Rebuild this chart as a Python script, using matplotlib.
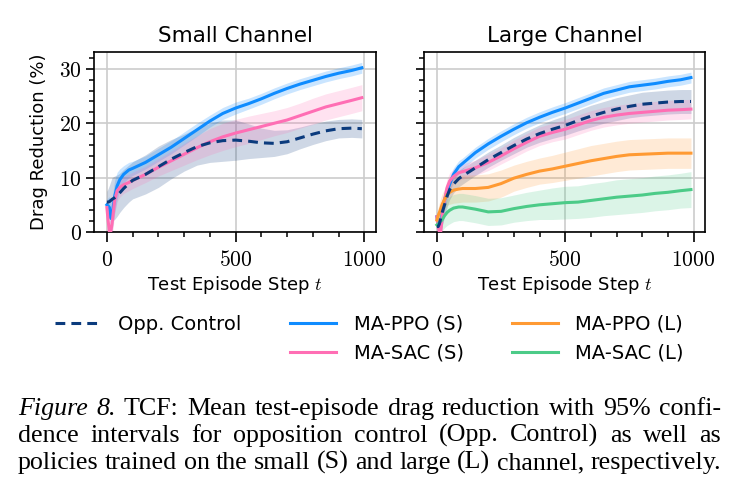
import matplotlib
matplotlib.use('Agg')
import matplotlib.pyplot as plt
import numpy as np
from matplotlib.lines import Line2D
from matplotlib.ticker import FixedLocator, MultipleLocator, FuncFormatter

# test episode steps
steps = [0, 5, 10, 15, 20, 30, 40, 50, 65, 85, 100, 150, 200, 250, 300, 350,
         400, 450, 500, 550, 600, 650, 700, 750, 800, 850, 900, 950, 990]

# small channel: mean drag reduction (%) and 95% CI half-widths
opp_small = [5.5, 5.5, 5.6, 5.8, 6.0, 6.3, 6.7, 7.2, 8.0, 8.9, 9.5, 10.6, 12.0, 13.4, 14.6,
             15.7, 16.4, 16.8, 16.9, 16.7, 16.4, 16.3, 16.6, 17.3, 18.0, 18.6, 19.0, 19.1, 19.0]
opp_small_ci = [2.0, 2.5, 3.0, 3.5, 4.0, 4.0, 3.8, 3.6, 3.5, 3.4, 3.4, 3.6, 3.8, 3.6, 3.4,
                3.4, 3.6, 3.8, 3.7, 3.2, 2.7, 2.4, 2.2, 2.0, 1.9, 1.8, 1.7, 1.7, 1.7]
ppo_s_small = [5.0, 4.8, 4.5, 2.5, 3.0, 6.5, 8.5, 9.6, 10.6, 11.4, 11.7, 12.8, 14.2, 15.6, 17.2,
               18.8, 20.4, 21.8, 22.8, 23.6, 24.5, 25.5, 26.4, 27.2, 27.9, 28.6, 29.2, 29.7, 30.2]
ppo_s_small_ci = [1.0, 1.5, 2.0, 3.0, 3.0, 3.0, 2.5, 2.0, 1.6, 1.4, 1.3, 1.2, 1.2, 1.2, 1.2,
                  1.2, 1.1, 1.1, 1.1, 1.0, 1.0, 1.0, 1.0, 1.0, 1.0, 1.0, 1.0, 1.0, 1.0]
sac_s_small = [4.5, 2.0, 0.0, 0.0, 1.5, 5.8, 7.6, 8.2, 8.7, 9.1, 9.5, 10.6, 11.9, 13.1, 14.3,
               15.5, 16.6, 17.5, 18.2, 18.8, 19.4, 20.0, 20.6, 21.4, 22.2, 23.0, 23.6, 24.2, 24.7]
sac_s_small_ci = [1.0, 1.5, 2.0, 2.5, 3.0, 2.5, 2.0, 1.8, 1.6, 1.5, 1.5, 1.5, 1.6, 1.8, 2.0,
                  2.2, 2.4, 2.5, 2.5, 2.5, 2.4, 2.3, 2.3, 2.3, 2.4, 2.4, 2.4, 2.4, 2.4]

# large channel
opp_large = [1.0, 1.0, 1.5, 2.5, 3.5, 5.0, 6.6, 7.8, 8.8, 9.8, 10.3, 11.8, 13.3, 14.6, 15.9,
             17.1, 18.1, 18.9, 19.6, 20.5, 21.3, 22.0, 22.6, 23.1, 23.5, 23.7, 23.9, 24.0, 24.0]
opp_large_ci = [1.0, 1.5, 2.0, 2.5, 2.5, 2.2, 2.0, 1.8, 1.6, 1.5, 1.5, 1.4, 1.4, 1.4, 1.5,
                1.5, 1.6, 1.7, 1.8, 1.9, 2.0, 2.0, 2.1, 2.1, 2.2, 2.2, 2.2, 2.2, 2.2]
ppo_s_large = [2.8, 1.5, 0.5, 1.5, 3.0, 5.9, 7.5, 8.8, 10.6, 12.0, 12.6, 14.6, 16.2, 17.6, 18.9,
               20.1, 21.1, 22.0, 22.8, 23.7, 24.6, 25.5, 26.1, 26.7, 27.0, 27.3, 27.7, 28.0, 28.4]
ppo_s_large_ci = [1.0, 1.5, 2.0, 2.0, 2.0, 1.8, 1.6, 1.4, 1.2, 1.1, 1.0, 1.0, 1.0, 1.0, 1.0,
                  1.0, 1.0, 1.0, 1.0, 1.0, 1.0, 1.0, 1.0, 1.0, 1.0, 1.0, 1.0, 1.0, 1.0]
sac_s_large = [2.8, 1.0, 0.0, 0.0, 2.5, 6.0, 8.2, 9.4, 10.2, 10.9, 11.1, 11.8, 12.8, 14.0, 15.3,
               16.5, 17.6, 18.3, 18.9, 19.7, 20.5, 21.1, 21.5, 21.8, 22.0, 22.2, 22.4, 22.5, 22.6]
sac_s_large_ci = [1.0, 1.5, 2.0, 2.0, 2.0, 1.8, 1.6, 1.5, 1.4, 1.4, 1.4, 1.4, 1.5, 1.5, 1.6,
                  1.6, 1.7, 1.7, 1.8, 1.8, 1.8, 1.8, 1.8, 1.8, 1.8, 1.8, 1.8, 1.8, 1.8]
ppo_l_large = [2.2, 3.0, 3.6, 4.3, 5.0, 6.0, 6.9, 7.3, 7.7, 7.9, 8.0, 8.0, 8.2, 8.9, 9.9,
               10.6, 11.2, 11.6, 12.1, 12.6, 13.1, 13.5, 13.9, 14.2, 14.3, 14.4, 14.5, 14.5, 14.5]
ppo_l_large_ci = [1.0, 1.5, 1.8, 2.0, 2.0, 2.0, 2.0, 2.2, 2.4, 2.5, 2.5, 2.5, 2.5, 2.5, 2.4,
                  2.4, 2.4, 2.5, 2.6, 2.7, 2.8, 2.8, 2.8, 2.8, 2.8, 2.8, 2.8, 2.8, 2.8]
sac_l_large = [1.3, 1.5, 1.8, 2.0, 2.2, 3.0, 3.6, 4.0, 4.4, 4.6, 4.6, 4.2, 3.7, 3.8, 4.3,
               4.7, 5.0, 5.2, 5.4, 5.5, 5.8, 6.1, 6.4, 6.6, 6.8, 7.1, 7.3, 7.6, 7.8]
sac_l_large_ci = [1.0, 1.2, 1.5, 1.8, 2.0, 2.2, 2.4, 2.5, 2.5, 2.5, 2.5, 2.5, 2.5, 2.5, 2.5,
                  2.6, 2.7, 2.9, 3.0, 3.0, 3.1, 3.1, 3.2, 3.2, 3.2, 3.2, 3.2, 3.2, 3.3]

titles = ['Small Channel', 'Large Channel']
caption = ['Figure 8. TCF: Mean test-episode drag reduction with 95% confi-',
           'dence intervals for opposition control (Opp. Control) as well as',
           'policies trained on the small (S) and large (L) channel, respectively.']

c_opp = '#0b3b7d'
c_ppo_s = '#0f8cff'
c_sac_s = '#ff6eb4'
c_ppo_l = '#ff9a33'
c_sac_l = '#4ccb88'

plt.rcParams['font.family'] = ['DejaVu Sans']
plt.rcParams['mathtext.fontset'] = 'cm'

fig = plt.figure(figsize=(7.39, 4.93), dpi=100)
ax1 = fig.add_axes([0.1272, 0.5294, 0.3816, 0.3651])
ax2 = fig.add_axes([0.5738, 0.5294, 0.3803, 0.3651])

t = np.array(steps)

def draw(ax, mean, ci, color, dashed=False, alpha=0.22):
    mean = np.array(mean)
    ci = np.array(ci)
    ax.fill_between(t, mean - ci, mean + ci, color=color, alpha=alpha, lw=0)
    if dashed:
        ax.plot(t, mean, color=color, lw=2.2, ls=(0, (3.2, 2.0)), zorder=5)
    else:
        ax.plot(t, mean, color=color, lw=2.2, zorder=4)

draw(ax1, opp_small, opp_small_ci, c_opp, dashed=True, alpha=0.2)
draw(ax1, ppo_s_small, ppo_s_small_ci, c_ppo_s, alpha=0.22)
draw(ax1, sac_s_small, sac_s_small_ci, c_sac_s, alpha=0.2)

draw(ax2, opp_large, opp_large_ci, c_opp, dashed=True, alpha=0.2)
draw(ax2, ppo_s_large, ppo_s_large_ci, c_ppo_s, alpha=0.22)
draw(ax2, sac_s_large, sac_s_large_ci, c_sac_s, alpha=0.2)
draw(ax2, ppo_l_large, ppo_l_large_ci, c_ppo_l, alpha=0.2)
draw(ax2, sac_l_large, sac_l_large_ci, c_sac_l, alpha=0.2)

fmt = FuncFormatter(lambda v, p: '$%d$' % v)
for ax, title in zip([ax1, ax2], titles):
    ax.set_xlim(-50, 1045)
    ax.set_ylim(0, 33.1)
    ax.xaxis.set_major_locator(FixedLocator([0, 500, 1000]))
    ax.xaxis.set_minor_locator(MultipleLocator(100))
    ax.yaxis.set_major_locator(FixedLocator([0, 10, 20, 30]))
    ax.yaxis.set_minor_locator(MultipleLocator(2))
    ax.xaxis.set_major_formatter(fmt)
    ax.yaxis.set_major_formatter(fmt)
    ax.grid(True, which='major', color='#cccccc', lw=1.2)
    ax.set_axisbelow(True)
    ax.tick_params(which='major', length=6, width=1.2, labelsize=15.5, pad=3)
    ax.tick_params(axis='x', which='major', length=7, pad=6)
    ax.tick_params(which='minor', length=3.5, width=1.1)
    for s in ax.spines.values():
        s.set_linewidth(1.2)
    ax.set_title(title, fontsize=15.5, pad=7)
    ax.set_xlabel('Test Episode Step $t$', fontsize=13, labelpad=3)

ax1.set_ylabel('Drag Reduction (%)', fontsize=13, labelpad=8)
ax2.tick_params(axis='y', which='both', labelleft=False)

# legend (column-major order, one empty slot under Opp. Control)
handles = [Line2D([], [], color=c_opp, lw=2.2, ls=(0, (3.2, 2.0))),
           Line2D([], [], alpha=0),
           Line2D([], [], color=c_ppo_s, lw=2.2),
           Line2D([], [], color=c_sac_s, lw=2.2),
           Line2D([], [], color=c_ppo_l, lw=2.2),
           Line2D([], [], color=c_sac_l, lw=2.2)]
labels = ['Opp. Control', '', 'MA-PPO (S)', 'MA-SAC (S)', 'MA-PPO (L)', 'MA-SAC (L)']
fig.legend(handles, labels, ncol=3, loc='center', bbox_to_anchor=(0.5, 0.313),
           frameon=False, fontsize=14, handlelength=2.35, handletextpad=0.9,
           columnspacing=2.5, labelspacing=0.5)

# caption, justified word by word between x0 and x1 (pixels)
fig.canvas.draw()
renderer = fig.canvas.get_renderer()
W = 739.0
x0, x1 = 18.0, 721.0
baselines = [415, 442, 469]

# pick the font size so the last line fills the width with ordinary spaces
probe = fig.text(0, 0, caption[2], fontsize=16, family='Liberation Serif')
csize = 16 * (x1 - x0) / probe.get_window_extent(renderer).width
probe.remove()

for i, line in enumerate(caption):
    words = line.split(' ')
    objs = []
    for j, w in enumerate(words):
        style = 'italic' if (i == 0 and j < 2) else 'normal'
        objs.append(fig.text(0, 1 - baselines[i] / 493.0, w, fontsize=csize,
                             family='Liberation Serif', style=style, va='baseline'))
    widths = [o.get_window_extent(renderer).width for o in objs]
    gap = (x1 - x0 - sum(widths)) / (len(words) - 1)
    x = x0
    for o, wd in zip(objs, widths):
        o.set_x(x / W)
        x += wd + gap

fig.savefig('out.png', dpi=100)
